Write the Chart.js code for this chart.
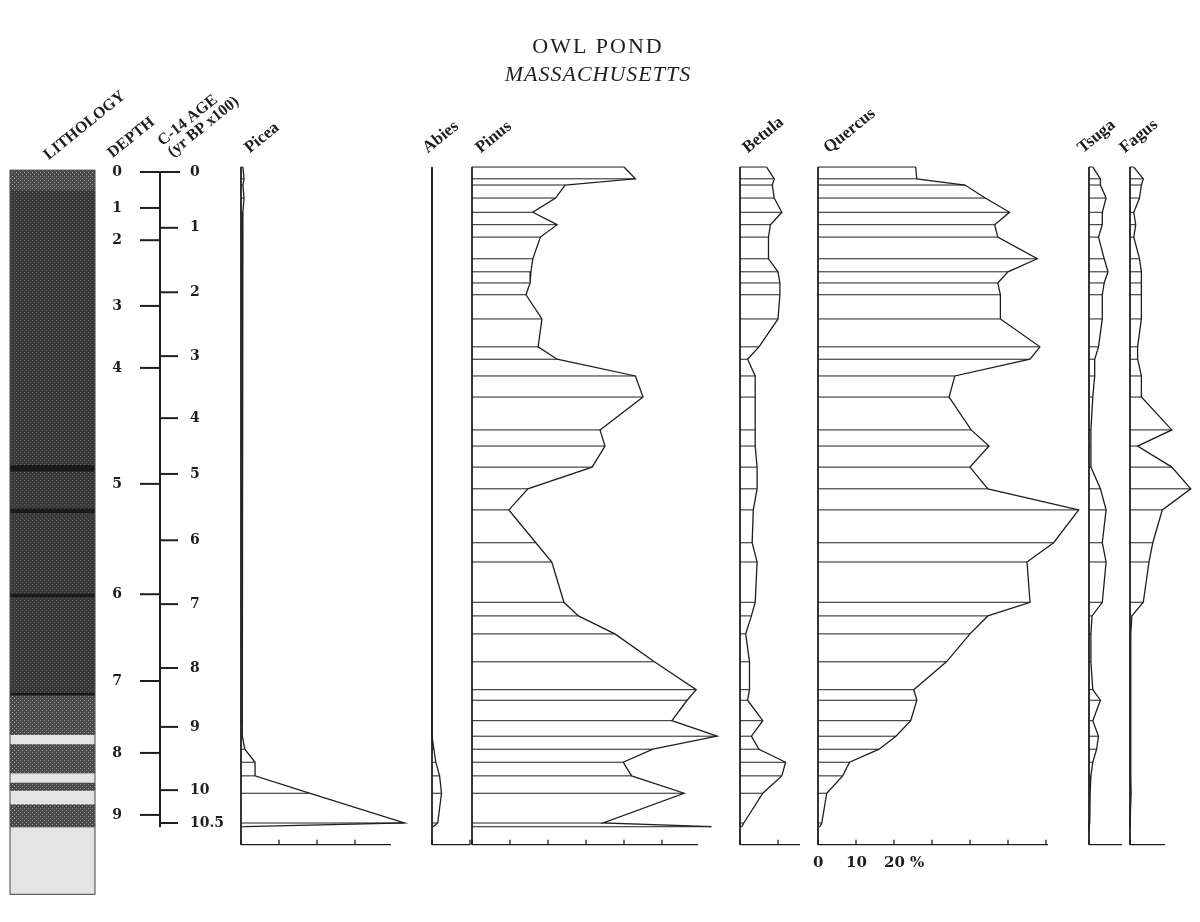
<!DOCTYPE html>
<html><head><meta charset="utf-8">
<script src="https://cdn.jsdelivr.net/npm/chart.js@4"></script>
<style>html,body{margin:0;padding:0;background:#fff;}canvas{display:block;}</style>
</head><body>
<canvas id="c" width="1200" height="922"></canvas>
<script>
// vertical position of each sample (in age-scale units, 0 = top, 10.5 = base)
const samplePos = [-0.08,0.11,0.21,0.42,0.65,0.85,1.05,1.40,1.61,1.79,1.98,2.37,2.82,3.02,3.29,3.63,4.16,4.42,4.76,5.11,5.45,5.98,6.29,6.94,7.16,7.45,7.90,8.35,8.52,8.85,9.10,9.31,9.52,9.74,10.02,10.50,10.56];
const picea  = [0.5,0.8,0.5,0.8,0.5,0.3,0.3,0.3,0.3,0.5,0.3,0.3,0.3,0.3,0.5,0.3,0.5,0.3,0.3,0.3,0.3,0.3,0.3,0.3,0.3,0.3,0.3,0.3,0.5,0.5,0.3,1,3.7,3.7,18,43,1];
const abies  = [0,0,0,0,0,0,0,0,0,0,0,0,0,0,0,0,0,0,0,0,0,0,0,0,0,0,0,0,0,0,0,0.5,1,2,2.5,1.5,0.3];
const pinus  = [40,43,24.5,22,16,22.4,18,16,15.5,15.3,14.2,18.4,17.4,22.4,43,45,33.7,35,31.6,14.7,9.7,16.8,21,24.2,28,37.6,48,59,56.6,52.6,64.5,47.6,39.8,42,55.8,34.5,63];
const betula = [7,9,8.5,9,11,8,7.5,7.5,10,10.5,10.5,10,5,2,4,4,4,4,4.5,4.5,3.5,3.2,4.5,4,3,1.5,2.5,2.5,2,6,3,5,12,11,6,1,0.5];
const quercus= [25.7,26,38.7,44,50.4,46.5,47.3,57.7,50,47.3,48,48,58.4,55.8,36,34.5,40.3,45,40,44.7,68.6,62,55,55.8,44.7,40,33.8,25.2,26,24.4,20.5,16.1,8.3,6.5,2.3,1,0.5];
const tsuga  = [1,3,3,4.5,3.5,3.5,2.5,4,5,4,3.5,3.5,2.5,1.5,1.5,1,0.5,0.5,0.5,3,4.5,3.5,4.5,3.5,0.8,0.5,0.5,1,3,1,2.5,2,1,0.5,0.3,0.2,0];
const fagus  = [1,3.5,3,2.5,1,1.5,1,2.5,3,3,3,3,2,2,3,3,11,2,11,16,8.5,6,5,3.5,0.5,0.2,0.2,0.2,0.2,0.2,0.2,0.2,0.2,0.2,0.3,0,0];
const taxaNames = ["Picea","Abies","Pinus","Betula","Quercus","Tsuga","Fagus"];
const ageTickLabels = ["0","1","2","3","4","5","6","7","8","9","10","10.5"];
const ageTickPos = [0,0.90,1.94,2.97,3.97,4.87,5.94,6.97,8.0,8.95,9.97,10.50];
const depthTickLabels = ["0","1","2","3","4","5","6","7","8","9"];
const depthTickPos = [0,0.58,1.10,2.16,3.16,5.03,6.81,8.21,9.37,10.37];

const series = [picea,abies,pinus,betula,quercus,tsuga,fagus];
const bases = [241,432,472,740,818,1089,1130];
const axisLen = [150,38,226,60,230,33,35];
const K = 3.8, INK = '#1e1e1e', BOTTOM = 10.85;

const datasets = [];
series.forEach((vals,t)=>{
  const b = bases[t];
  datasets.push({data: vals.map((v,i)=>({x:b+K*v,y:samplePos[i]})), borderColor:INK, borderWidth:1.3, pointRadius:0, showLine:true, tension:0});
  const hl = [];
  vals.forEach((v,i)=>{ if(v>0.25){hl.push({x:b,y:samplePos[i]},{x:b+K*v,y:samplePos[i]},{x:null,y:null});} });
  datasets.push({data:hl, borderColor:INK, borderWidth:1, pointRadius:0, showLine:true, spanGaps:false});
  datasets.push({data:[{x:b,y:samplePos[0]},{x:b,y:BOTTOM}], borderColor:INK, borderWidth:1.8, pointRadius:0, showLine:true});
});

const deco = {
  id:'deco',
  beforeDatasetsDraw(chart){
    const ctx=chart.ctx, ys=chart.scales.y, xs=chart.scales.x;
    const Y=v=>ys.getPixelForValue(v), X=v=>xs.getPixelForValue(v);
    ctx.save();
    const pat=document.createElement('canvas'); pat.width=4; pat.height=4;
    const p=pat.getContext('2d'); p.fillStyle='#4a4a4a'; p.fillRect(0,0,4,4); p.fillStyle='#9a9a9a'; p.fillRect(0,0,1,1); p.fillRect(2,2,1,1);
    const hatch=ctx.createPattern(pat,'repeat');
    const top=Y(-0.03), bot=Y(11.65);
    ctx.fillStyle=hatch; ctx.fillRect(X(10),top,X(95)-X(10),bot-top);
    ctx.fillStyle='rgba(40,40,40,0.5)'; ctx.fillRect(X(10),Y(0.3),X(95)-X(10),Y(8.45)-Y(0.3));
    ctx.fillStyle='#1a1a1a';
    [[4.73,4.83],[5.43,5.50],[6.80,6.86],[8.4,8.44]].forEach(b=>ctx.fillRect(X(10),Y(b[0]),X(95)-X(10),Y(b[1])-Y(b[0])));
    ctx.fillStyle='#e4e4e4';
    [[9.08,9.23],[9.70,9.85],[9.98,10.2],[10.57,11.65]].forEach(b=>ctx.fillRect(X(10),Y(b[0]),X(95)-X(10),Y(b[1])-Y(b[0])));
    ctx.strokeStyle='#444'; ctx.lineWidth=1; ctx.strokeRect(X(10),top,X(95)-X(10),bot-top);
    ctx.strokeStyle=INK; ctx.fillStyle=INK; ctx.lineWidth=2;
    const ax=X(160);
    ctx.beginPath(); ctx.moveTo(ax,Y(0)); ctx.lineTo(ax,Y(10.57)); ctx.stroke();
    ctx.beginPath(); ctx.moveTo(X(140),Y(0)); ctx.lineTo(X(180),Y(0)); ctx.stroke();
    ctx.font='bold 14px "DejaVu Serif", serif'; ctx.textBaseline='middle';
    depthTickPos.forEach((v,i)=>{ if(i>0){ctx.beginPath();ctx.moveTo(X(140),Y(v));ctx.lineTo(ax,Y(v));ctx.stroke();}
      ctx.textAlign='right'; ctx.fillText(depthTickLabels[i],X(122),Y(v)); });
    ageTickPos.forEach((v,i)=>{ if(i>0){ctx.beginPath();ctx.moveTo(ax,Y(v));ctx.lineTo(X(178),Y(v));ctx.stroke();}
      ctx.textAlign='left'; ctx.fillText(ageTickLabels[i],X(190),Y(v)); });
    ctx.lineWidth=1.3;
    bases.forEach((b,t)=>{
      const yb=Y(BOTTOM);
      ctx.beginPath(); ctx.moveTo(X(b),yb); ctx.lineTo(X(b+axisLen[t]),yb); ctx.stroke();
      for(let s=0;s*10*K<=axisLen[t]+1;s++){ctx.beginPath();ctx.moveTo(X(b+s*10*K),yb);ctx.lineTo(X(b+s*10*K),yb-5);ctx.stroke();}
    });
    ctx.textAlign='left'; ctx.font='bold 15px "DejaVu Serif", serif';
    ctx.fillText('0',X(813),Y(BOTTOM)+18); ctx.fillText('10',X(846),Y(BOTTOM)+18); ctx.fillText('20 %',X(884),Y(BOTTOM)+18);
    ctx.textAlign='center';
    ctx.letterSpacing='2px';
    ctx.font='22px "Liberation Serif", serif'; ctx.fillText('OWL POND',X(598),47);
    ctx.letterSpacing='1px';
    ctx.font='italic 22px "Liberation Serif", serif'; ctx.fillText('MASSACHUSETTS',X(598),75);
    ctx.letterSpacing='0px';
    const rot=(txt,x,y,f)=>{ctx.save();ctx.translate(x,y);ctx.rotate(-0.68);ctx.textAlign='left';ctx.font=f||'bold 16px "Liberation Serif", serif';ctx.fillText(txt,0,0);ctx.restore();};
    rot('LITHOLOGY',46,157); rot('DEPTH',110,155); rot('C-14 AGE',160,143); rot('(yr BP x100)',170,154);
    const lx=[247,425,478,745,826,1080,1122];
    taxaNames.forEach((n,i)=>rot(n,lx[i],150,'bold 17px "Liberation Serif", serif'));
    ctx.restore();
  }
};

new Chart(document.getElementById('c'),{
  type:'scatter',
  data:{datasets},
  options:{responsive:false,animation:false,devicePixelRatio:1,
    layout:{padding:0},
    plugins:{legend:{display:false},tooltip:{enabled:false}},
    scales:{x:{type:'linear',min:0,max:1200,display:false},
            y:{type:'linear',reverse:true,min:-172/62,max:750/62,display:false}}},
  plugins:[deco]
});
</script>
</body></html>
